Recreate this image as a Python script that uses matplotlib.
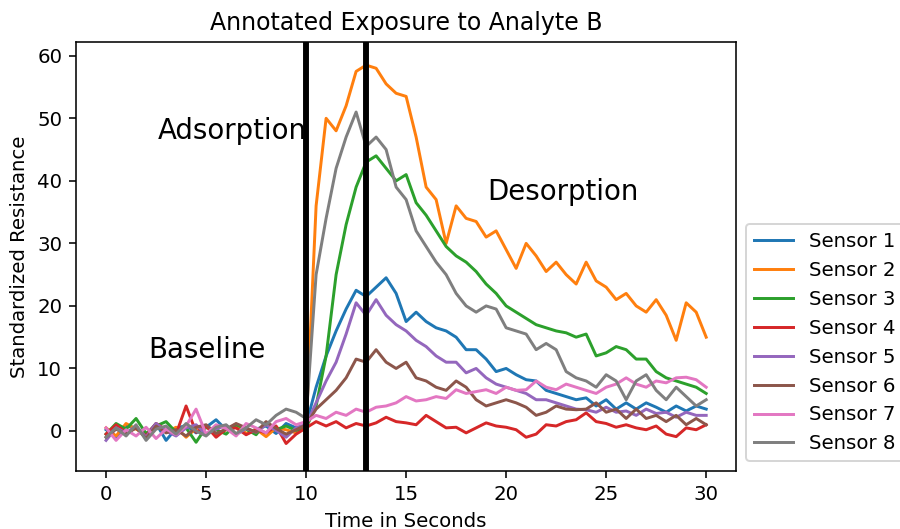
import matplotlib
matplotlib.use("Agg")
import matplotlib.pyplot as plt
import numpy as np

# time axis, 0.5 s steps
t = np.arange(0, 30.01, 0.5)

sensor1 = [0.2, -1.0, 0.8, 0.5, -0.6, 1.2, -1.5, 0.4, 0.9, -0.3, 0.6, 1.8, 0.2, 1.0, -0.5, 0.3, 0.8, -0.4, 1.2, 0.5,
           1, 7, 12, 16, 19.5, 22.5, 21.5, 23, 24.5, 22, 17.5, 19, 17.5, 16.5, 16, 15, 13, 13, 11.5, 9.5,
           10, 9, 8.2, 8, 6.5, 6, 5.5, 5, 5.3, 4, 5, 3.5, 4.5, 3.5, 4.5, 3.8, 3, 4, 3.2, 4, 3.5]
sensor2 = [0.5, -0.8, 1.2, 0.3, -0.5, 1.0, -0.2, 0.6, -1.0, 0.4, 0.8, -0.6, 0.2, 1.1, -0.4, 0.3, -0.9, 0.5, 0.2, -0.3,
           0.5, 36, 50, 48, 52, 57.5, 58.5, 58, 55.5, 54, 53.5, 47, 39, 37, 30, 36, 34, 33.5, 31, 32,
           29, 26, 30, 28, 25.5, 27, 25, 23.5, 27, 24, 23, 21, 22, 20, 19, 21, 18.5, 14.5, 20.5, 19, 15]
sensor3 = [-0.5, 1.2, 0.3, 2.0, -0.4, 0.8, 1.5, -0.2, 0.5, -1.8, 0.6, 0.2, -0.5, 1.0, 0.3, -0.6, 1.4, 0.2, 0.8, 0.1,
           0.5, 4, 12, 25, 33, 39, 43, 44, 42, 40, 41, 36.5, 34.5, 32, 29.5, 28, 27, 25.5, 23.5, 22,
           20, 19, 18, 17, 16.5, 16, 15.7, 15, 15.5, 12, 12.5, 13.5, 13, 11.5, 11.5, 9.5, 8.5, 8, 7.5, 7, 6]
sensor4 = [-0.5, 1.0, -0.3, 0.5, -0.8, 1.2, 0.2, -0.5, 4.0, -0.2, 0.8, -1.0, 0.3, 0.5, -0.6, 0.2, -0.3, 0.8, -2.0, -0.5,
           0.5, 1.5, 0.8, 1.5, 0.5, 1.2, 0.8, 1.3, 2.2, 1.5, 1.3, 1, 2.5, 1.5, 0.5, 0.6, -0.3, 0.5, 1.3, 0.8,
           0.6, 0.2, -1, -0.5, 1, 0.8, 1.5, 1.8, 2.9, 1.5, 1.2, 0.6, 1, 0.5, 0.2, 0.8, -0.5, -0.9, 0.5, 0.2, 1]
sensor5 = [-1.5, 0.5, -0.3, 0.8, -1.0, 1.2, 0.0, -0.8, 0.5, 1.0, -0.5, 0.3, 0.9, -0.6, 0.4, -0.2, 1.0, 0.1, -1.0, 0.5,
           1, 4.5, 8, 11, 15.5, 20.5, 18.5, 21, 18.5, 17, 16, 14.5, 13.5, 12, 11, 11, 9.3, 10, 8.5, 7.5,
           7, 6.5, 6, 5, 5, 4.5, 4, 3.5, 3.4, 3, 3.8, 3, 3.2, 2.5, 3.5, 2.8, 3, 2.2, 3, 2.5, 2.5]
sensor6 = [-1.0, 0.3, -0.5, 0.5, -1.2, 0.8, -0.3, 0.2, -0.8, 0.6, 1.0, -0.4, 0.3, 1.2, 0.5, -0.2, 1.5, 0.4, -0.5, 0.2,
           1, 3.5, 5, 6.5, 8.5, 11.5, 11, 13, 11, 10, 11, 8.5, 8, 7, 6.5, 8, 7, 5, 4, 4.5,
           5, 4.5, 3.8, 2.5, 3, 4, 3.5, 3.4, 3.5, 4.5, 3, 3.5, 2, 3.5, 2, 2.5, 1.5, 2.5, 1, 2, 1]
sensor7 = [0.5, -1.5, 0.2, -0.8, 0.6, -1.2, 0.3, -0.6, 0.8, 3.5, -0.5, 1.0, 0.4, -0.8, 1.2, 0.5, -0.3, 1.5, 2.0, 1.0,
           1.5, 2.5, 2, 3, 2.5, 3.5, 3, 3.8, 4, 4.5, 5.5, 4.8, 5, 5.5, 5.2, 6.6, 6, 6.3, 6.6, 6,
           7, 6.5, 6.6, 8, 7, 6.6, 7.5, 7, 6.5, 6, 7, 7.5, 8.5, 7.5, 7, 8, 7.7, 8.5, 8.6, 8.2, 7]
sensor8 = [-1.0, 0.5, -0.8, 1.0, -1.5, 0.3, 0.8, -0.5, 1.2, 0.0, -0.8, 0.6, 1.0, -0.4, 0.5, 1.8, 1.0, 2.5, 3.5, 3.0,
           2, 25, 34, 42, 47, 51, 45.5, 47, 45, 39, 37, 32, 29.5, 27, 25, 22, 20, 19, 20, 19.5,
           16.5, 16, 15.5, 13, 14, 13, 9.5, 8.5, 8, 7, 9, 8, 5, 8, 9, 6.5, 5, 7, 5.5, 4, 5]

series = [sensor1, sensor2, sensor3, sensor4, sensor5, sensor6, sensor7, sensor8]
labels = ["Sensor %d" % (i + 1) for i in range(8)]

fig = plt.figure(figsize=(900 / 142, 529 / 142), dpi=142)
ax = fig.add_subplot(111)
fig.subplots_adjust(left=0.0845, right=0.818, top=0.9206, bottom=0.1096)

for s, lab in zip(series, labels):
    ax.plot(t, s, label=lab)

# exposure start / end
ax.axvline(10, color="black", lw=3)
ax.axvline(13, color="black", lw=3)

ax.text(2.6, 48, "Adsorption", fontsize=14, va="center")
ax.text(2.1, 13, "Baseline", fontsize=14, va="center")
ax.text(19.05, 38.2, "Desorption", fontsize=14, va="center")

ax.set_ylim(-6.4, 62.2)
ax.set_title("Annotated Exposure to Analyte B")
ax.set_xlabel("Time in Seconds")
ax.set_ylabel("Standardized Resistance")
ax.legend(loc="lower left", bbox_to_anchor=(1, 0))

fig.savefig("out.png", dpi=142)
